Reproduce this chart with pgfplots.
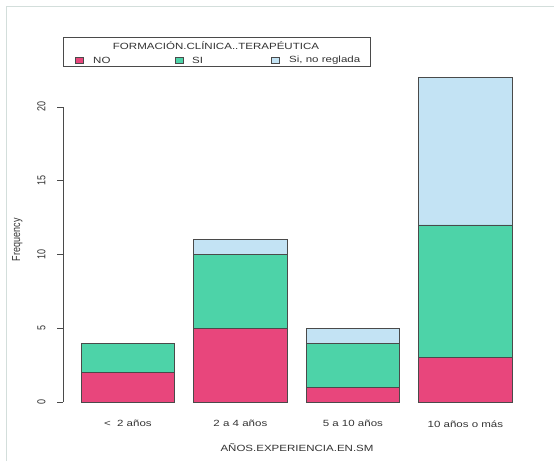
\documentclass[border=0pt]{standalone}
\usepackage{pgfplots}
\pgfplotsset{compat=1.18}
\usepackage{fontspec}
\setmainfont{Liberation Sans}
\usepackage{graphicx}
\definecolor{cNO}{HTML}{E8467C}
\definecolor{cSI}{HTML}{4DD3A8}
\definecolor{cSNR}{HTML}{C3E3F4}
\definecolor{edge}{HTML}{4A4A4A}
\definecolor{frame}{HTML}{D3DEDB}
\definecolor{txt}{HTML}{333333}
\newcommand{\hs}[1]{\scalebox{1.28}[1]{#1}}
\newcommand{\vs}[1]{\scalebox{1}[1.28]{#1}}
\begin{document}
\begin{tikzpicture}[x=1pt,y=1pt]
\path[use as bounding box] (0,0) rectangle (554,461);
\draw[frame, line width=1pt] (6,0) -- (6,454) -- (554,454);
\begin{axis}[
  at={(63pt,46pt)}, anchor=south west, scale only axis,
  width=486pt, height=350.5pt,
  xmin=0.008, xmax=5.192, ymin=-0.88, ymax=22.88,
  axis lines=left, axis line style={draw=none},
  clip=false,
  xtick={0.7,1.9,3.1,4.3},
  xticklabels={\hs{<\ \ 2 años},\hs{2 a 4 años},\hs{5 a 10 años},\hs{10 años o más}},
  x tick style={draw=none},
  xticklabel style={yshift=4pt},
  ytick={0,5,10,15,20},
  yticklabels={\vs{0},\vs{5},\vs{10},\vs{15},\vs{20}},
  y tick style={edge, line width=0.6pt},
  tick align=outside, major tick length=6pt,
  yticklabel style={rotate=90, anchor=south},
  yticklabel shift=8pt,
  font=\fontsize{9}{10}\selectfont,
  tick label style={text=txt},
  xlabel={\hs{AÑOS.EXPERIENCIA.EN.SM}},
  xlabel style={xshift=-9pt, yshift=-9pt},
  ylabel={\vs{Frequency}},
  ylabel shift=8pt,
  label style={text=txt},
  ybar stacked, bar width=1,
]
\addplot[fill=cNO, draw=edge, line width=0.6pt] coordinates {(0.7,2) (1.9,5) (3.1,1) (4.3,3)};
\addplot[fill=cSI, draw=edge, line width=0.6pt] coordinates {(0.7,2) (1.9,5) (3.1,3) (4.3,9)};
\addplot[fill=cSNR, draw=edge, line width=0.6pt] coordinates {(0.7,0) (1.9,1) (3.1,1) (4.3,10)};
\draw[edge, line width=0.6pt] (axis cs:0.008,0) -- (axis cs:0.008,20);
\end{axis}
% legend
\draw[edge, line width=0.6pt, fill=white] (63,395) rectangle (370,424);
\node[text=txt, font=\fontsize{9}{10}\selectfont] at (216,415.5) {\hs{FORMACIÓN.CLÍNICA..TERAPÉUTICA}};
\draw[edge, line width=0.5pt, fill=cNO] (75,398) rectangle (83,404);
\node[anchor=west, inner sep=0, text=txt, font=\fontsize{9}{10}\selectfont] at (93,401) {\hs{NO}};
\draw[edge, line width=0.5pt, fill=cSI] (175,398) rectangle (183,404);
\node[anchor=west, inner sep=0, text=txt, font=\fontsize{9}{10}\selectfont] at (192,401) {\hs{SI}};
\draw[edge, line width=0.5pt, fill=cSNR] (271,398) rectangle (279,404);
\node[anchor=west, inner sep=0, text=txt, font=\fontsize{9}{10}\selectfont] at (289,401) {\hs{Si, no reglada}};
\end{tikzpicture}
\end{document}
